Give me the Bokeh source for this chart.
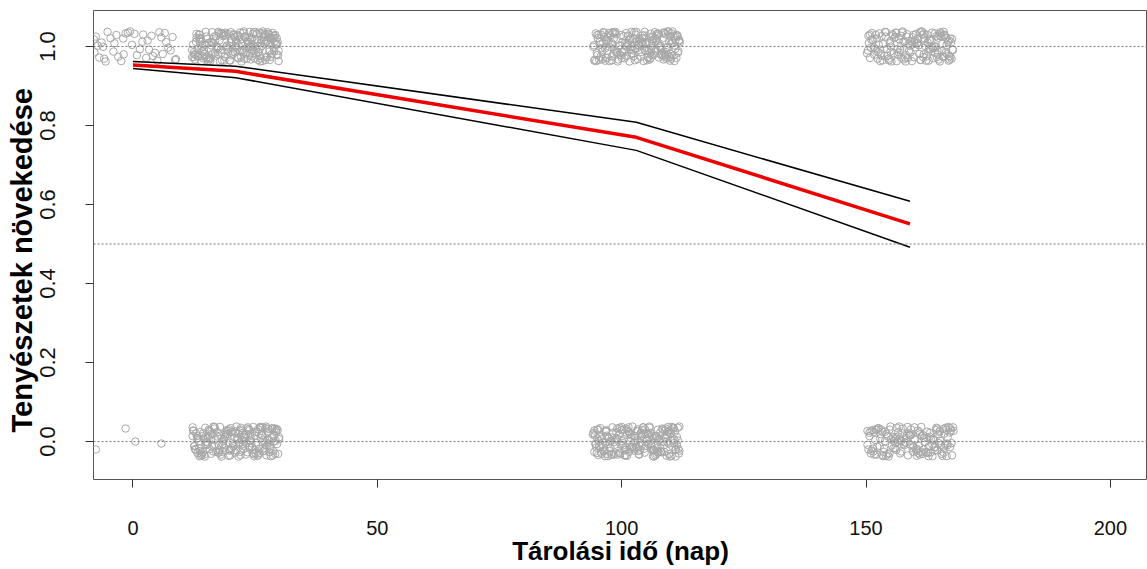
from bokeh.plotting import figure
from bokeh.models import Range1d, FixedTicker, Span, NumeralTickFormatter, Title
from bokeh.embed import file_html
from bokeh.resources import INLINE

# ---- data ----
days = [0, 21, 103, 159]
fit = [0.953, 0.937, 0.770, 0.551]
upper = [0.962, 0.950, 0.808, 0.608]
lower = [0.944, 0.921, 0.737, 0.492]
ref_levels = [0.0, 0.5, 1.0]
x_ticks = [0, 50, 100, 150, 200]
y_ticks = [0.0, 0.2, 0.4, 0.6, 0.8, 1.0]
x_title = "Tárolási idő (nap)"
y_title = "Tenyészetek növekedése"

# jittered observations (x jitter in days, y jitter in thousandths)
d0_hi_dx = [-7.6, -5.9, -3.8, -1.5, 0.8, 3.0, 5.4, 7.7, -6.9, -4.6, -2.4, -0.2, 2.1, 4.5, 6.8, 8.6, -8.0, -5.2, -3.0, 1.4, 3.8, 6.1, -7.2, -1.0, 5.0, 8.1, -4.0, -6.4, 0.3, 2.7, 7.2, -2.0, 4.1, -5.6, 6.5, -7.9, -3.4, 1.9, 8.8, -0.6, 3.3, -6.1, 5.8, -1.9]
d0_hi_dy = [25, -31, 8, 33, -22, 15, 36, -10, -28, 21, -37, 4, 30, -16, 11, -34, 18, 37, -26, -7, 27, -19, 2, 35, -36, 24, -13, 10, 32, -29, -3, 20, -24, -38, 34, -15, 29, 12, -32, 38, -8, -1, 23, -20]
d0_lo_x = [-7.6, -1.5, 0.5, 5.8]
d0_lo_y = [-0.02, 0.033, 0.0, -0.005]

d21_hi_dx = [-8.1, 3.4, -2.7, 6.9, 0.5, -5.6, 8.2, -0.9, 4.7, -7.3, 1.8, -3.9, 7.6, -6.4, 2.9, -1.5, 5.3, -8.6, 0.2, 6.1, -4.4, 3.8, -2.1, 8.7, -6.9, 1.1, -3.2, 5.9, -7.8, 4.2, -0.4, 7.1, -5.1, 2.4, -1.9, 6.6, -8.4, 0.8, 3.1, -4.8, 7.9, -2.5, 5.0, -6.2, 1.5, -0.1, 8.4, -7.0, 4.4, -3.5, 2.0, -5.9, 6.3, -1.2, 3.6, -8.9, 7.3, -4.1, 0.0, 5.6, -2.9, 8.0, -6.6, 1.9, -3.7, 4.9, -7.6, 2.6, -0.6, 6.8, -5.3, 3.3, -1.7, 7.7, -8.2, 0.6, 4.0, -4.6, 5.8, -2.3, 8.5, -6.0, 1.3, -3.0, 6.4, -7.4, 2.2, -0.3, 4.6, -5.0, 7.4, -1.0, 3.0, -8.0, 5.1, -4.2, 0.9, 6.0, -6.8, 2.7, -2.6, 8.8, -5.5, 1.6, -3.4, 4.3, -7.1, 0.4, 7.0, -4.9]
d21_hi_dy = [12, -25, 33, -8, 27, -36, 5, 19, -14, 30, -31, 0, 22, -19, 37, -3, 15, -27, 9, -34, 25, -11, 35, -22, 2, 18, -38, 28, -6, -17, 31, 7, -29, 14, -1, 36, -20, 24, -33, 10, -12, 29, -24, 4, 34, -15, 21, -37, 16, -5, 26, -28, 11, -35, 32, -9, 20, -23, 1, 38, -16, 13, -30, 23, -2, 35, -26, 8, -13, 30, -32, 17, -7, 27, -21, 3, 37, -18, 14, -36, 6, 25, -10, 33, -27, 19, -4, 29, -34, 11, -19, 36, -1, 22, -30, 15, -12, 31, -24, 0, 26, -37, 9, -15, 34, -6, 18, -28, 24, -20]
d21_lo_dx = [4.1, -6.7, 0.7, 8.3, -3.3, 2.5, -8.5, 5.7, -1.4, 7.2, -4.7, 1.0, -7.7, 3.9, -0.8, 6.2, -5.8, 2.1, -2.2, 8.6, -6.1, 4.8, -3.6, 0.3, 7.5, -8.3, 1.7, -1.1, 5.4, -5.2, 3.2, -7.2, 6.7, -0.2, 2.8, -4.3, 8.1, -6.5, 1.4, -2.8, 4.5, -8.7, 7.8, -3.1, 0.1, 5.2, -5.7, 3.5, -1.6, 6.5, -7.5, 2.3, -4.0, 8.9, -0.7, 4.2, -6.3, 1.2, -2.4, 7.0, -8.1, 3.7, -3.8, 5.5, -1.3, 0.9, -5.4, 6.9, -7.9, 2.9, -0.5, 4.6, -6.9, 8.2, -2.0, 1.5, -4.5, 5.9, -8.8, 3.4, -1.8, 7.6, -5.0, 0.5, -3.4, 6.1, -7.0, 2.0, -0.1, 4.9, -6.0, 8.4, -2.7, 1.8, -4.9, 5.0, -7.4, 3.0, -1.0, 6.6]
d21_lo_dy = [-30, 14, -5, 27, -21, 36, -12, 3, 31, -37, 18, -26, 9, 24, -16, 38, -1, -33, 12, 29, -9, 20, -28, 5, 34, -19, 1, -35, 16, 26, -4, -24, 32, 10, -14, 37, -31, 7, 22, -10, -36, 28, 0, 15, -22, 35, -7, -29, 19, 4, -17, 33, -25, 11, 25, -3, -38, 30, 6, -13, 21, -32, 13, 36, -20, -2, 27, -27, 8, 17, -11, 31, -34, 2, 23, -6, 38, -23, 14, -15, 29, -35, 5, 20, -8, 34, -30, 10, 26, -18, -1, 32, -26, 16, -12, 37, -37, 3, 24, -5]
d103_hi_dx = [-7.9, 2.2, 5.8, -3.0, 0.4, 8.0, -5.5, -1.7, 6.4, 3.5, -8.3, 1.3, -4.1, 7.4, -0.6, 4.8, -6.6, 2.7, 8.7, -2.4, -7.2, 5.1, 0.9, -4.9, 6.9, -1.2, 3.9, -8.6, 1.7, -3.6, 7.7, -6.1, 4.3, -0.2, 2.9, -5.2, 8.4, -2.9, 0.0, 6.2, -7.6, 4.0, -1.9, 5.5, -4.4, 1.9, -8.0, 7.1, -3.3, 3.2, -0.9, 6.6, -6.4, 2.4, -5.8, 8.9, -1.4, 4.6, -7.0, 0.6, -2.1, 5.9, -4.7, 3.7, 7.9, -6.9, 1.1, -3.9, 4.4, -8.8, 6.0, -0.4, 2.0, -5.0, 8.2, -2.6, 1.5, -7.4, 5.3, -1.0, 3.0, -6.2, 7.3, -4.2, 0.2, 6.8, -8.2, 2.6, -3.1, 4.9, -5.6, 8.5, -0.7, 1.8, -6.8, 5.6, -2.3, 3.4, -4.6, 7.0]
d103_hi_dy = [21, -10, 35, -29, 4, 16, -37, 27, -3, -21, 33, 9, -16, 38, -25, 1, 24, -33, 13, -8, 30, -19, 6, 36, -27, 18, -12, -36, 28, 2, -23, 15, 32, -6, -30, 11, 25, -15, 37, -2, -34, 20, 7, -24, 34, -11, 29, -31, 3, 14, -18, 38, -5, -28, 23, 10, -38, 31, -13, 17, 0, -22, 35, -7, 26, -32, 12, -17, 33, -1, -26, 19, 8, -35, 29, -14, 22, 5, -20, 37, -9, -29, 15, 31, -4, 27, -37, 12, -23, 2, 34, -16, 20, -11, 36, -33, 9, 25, -19, 6]
d103_lo_dx = [1.6, -6.3, 7.5, -2.2, 4.1, -8.4, 0.3, 5.7, -4.0, 8.8, -1.3, 2.9, -7.1, 6.3, -3.4, 0.8, -5.9, 3.6, 7.9, -0.5, -8.9, 4.4, -2.6, 6.0, -5.3, 1.2, 8.3, -3.8, 2.3, -7.7, 5.0, -1.6, 3.8, -6.0, 7.2, 0.1, -4.5, 8.6, -2.0, 4.7, -8.1, 1.9, -3.2, 6.5, -6.7, 2.6, -0.8, 5.4, -5.1, 7.8, -1.9, 3.3, -7.4, 0.6, 6.8, -4.2, 2.1, -8.6, 4.9, -0.2, -6.4, 7.0, -2.8, 1.4, 5.2, -5.6, 3.1, -7.8, 8.1, -1.0, 0.5, -3.9, 6.6, -6.9, 2.7, -0.4, 4.2, -8.2, 7.6, -2.4, 1.0, -5.4, 5.9, -3.5, 3.9, -7.3, 8.5, -1.2, 0.2, -4.8, 6.2, -6.2, 2.4, -2.9, 4.5, -8.0, 7.3, -0.9, 1.7, -5.0, 5.6, -3.0, 3.5, -7.5, 8.0, -1.5]
d103_lo_dy = [-18, 27, 3, -35, 14, -6, 31, -26, 9, 38, -13, 22, -31, 0, 35, -21, 12, -38, 25, -3, 18, -28, 6, 33, -16, 29, -9, -33, 20, 2, -24, 36, -12, 15, -36, 26, -1, -19, 32, 7, -29, 23, -7, 37, -25, 11, -14, 30, -34, 4, 17, -22, 34, -10, 24, -30, 1, 28, -17, 13, -37, 21, -4, 36, -27, 8, -12, 31, -20, 16, -32, 5, 26, -8, 38, -23, 10, -15, 33, -35, 19, -2, 28, -28, 14, -11, 35, -18, 3, 22, -36, 25, -5, 30, -26, 8, 37, -14, 18, -31, 0, 29, -21, 12, -38, 24]
d159_hi_dx = [-8.2, -6.5, -4.1, -1.3, 1.6, 3.9, 6.2, 8.3, -7.4, -5.0, -2.7, 0.3, 2.8, 5.1, 7.5, -8.6, -3.5, -0.4, 4.4, 6.9, -6.0, -1.9, 2.1, 5.8, 8.7, -7.8, -4.6, 0.9, 3.3, 7.1, -5.5, -2.3, 1.2, 4.8, 8.0, -8.0, -3.0, -0.8, 2.5, 6.5, -6.8, -4.3, 0.0, 3.6, 5.5, 7.8, -7.1, -1.6, 1.9, 4.1, 8.5, -5.8, -2.0, 2.9, 6.7, -8.4, -3.8, 0.6, 5.3, 7.3, -6.3, -1.0, 3.0, 4.6, -4.9, -2.5, 1.4, 6.1, 8.1, -7.6, -0.2, 2.3, 5.0, -5.2, -3.2, 0.5, 3.8, 7.0, -8.8, -1.4, 4.2, 6.4, -6.6, -2.9, 1.8, 5.7, 8.6, -4.0, -0.6, 2.7]
d159_hi_dy = [30, -14, 8, -33, 19, -5, 36, -26, -2, 25, -37, 13, -20, 33, 4, -10, 28, -29, 16, 37, -18, 1, -34, 22, -8, 34, -24, 10, -36, 27, 6, -15, 31, -30, 15, -3, 24, -22, 37, -12, 20, -35, 2, 29, -27, 11, -6, 35, -19, 18, -31, 26, -9, 32, -25, 9, -38, 23, 0, -16, 33, -28, 14, -4, 36, -21, 7, 28, -33, 17, -11, 38, -1, -24, 21, 5, -36, 30, -17, 12, -7, 26, -31, 35, 3, -20, 19, -13, 31, -27]
d159_lo_dx = [0.7, -7.0, 4.3, -3.1, 7.9, -5.7, 2.0, -0.9, 6.0, -8.5, 3.5, -4.4, 8.4, -1.8, 5.2, -6.4, 1.3, -2.5, 7.2, -7.7, 2.6, -0.3, 4.9, -5.3, 8.8, -3.7, 0.2, 6.6, -8.1, 3.1, -1.5, 5.6, -6.1, 1.7, -4.8, 7.6, -2.2, 0.5, 4.0, -7.3, 8.1, -3.3, 2.2, -5.9, 6.3, -0.7, 3.8, -8.7, 1.0, -2.8, 5.4, -6.7, 7.0, -4.2, 2.9, -1.1, 6.8, -7.5, 0.0, 4.6, -5.1, 8.6, -3.5, 1.5, -0.5, 5.9, -8.3, 3.3, -2.0, 7.4, -6.2, 2.4, -4.6, 6.1, -1.3, 0.9, -7.9, 4.7, -3.0, 8.2, -5.5, 1.9, -2.6, 5.0, -6.9, 3.7, -0.1, 7.7, -4.0, 2.8]
d159_lo_dy = [-12, 31, -27, 6, 37, -34, 18, -3, 24, -20, 10, -38, 28, 1, -15, 34, -24, 13, -7, 29, -31, 21, 4, -18, 36, -10, 16, -36, 26, -1, 33, -22, 8, -29, 19, -5, 38, -16, 12, -33, 23, 2, -26, 30, -9, 15, -37, 27, 5, -21, 35, -13, 20, -30, 9, -2, 32, -25, 17, -8, 25, -35, 11, -19, 37, -4, 22, -28, 3, 30, -11, 14, -32, 27, -6, 36, -23, 7, -17, 34, -37, 24, 0, -14, 29, -29, 16, -9, 38, -20]

# further observations in the dense groups, as (x jitter, y jitter) pairs
d21_hi_more = [(2.3,-31),(5.1,8),(-6.8,-12),(-7.4,22),(0.9,35),(7.8,-4),(8.1,29),(-1.1,-36),(-3.6,-20),(4.0,17),
    (6.2,-27),(-5.0,3),(1.4,-9),(-8.3,-33),(-2.0,28),(3.7,36),(8.6,11),(-0.5,-18),(-4.5,9),(6.7,32),
    (-7.0,-3),(2.8,-24),(0.1,14),(-6.1,37),(5.5,-37),(-3.0,-8),(7.3,20),(-8.7,5),(1.9,25),(4.6,-15),
    (-1.8,2),(-5.4,-29),(3.2,-2),(8.4,-21),(-2.4,33),(0.6,-30),(6.0,7),(-7.7,-24),(-4.0,26),(2.5,12),
    (5.8,24),(-0.8,18),(-6.5,-9),(7.0,-34),(-3.3,15),(1.1,-26),(4.3,31),(-8.0,32),(-1.5,-13),(8.8,-11),
    (3.5,3),(-5.8,19),(0.3,-5),(-2.8,-35),(6.5,15),(-7.2,12),(2.0,-17),(5.0,-38),(-4.8,36),(7.6,34),
    (-0.2,24),(-6.0,-30),(3.9,-30),(1.7,38),(-3.9,-1),(8.3,4),(-1.0,10),(4.9,-7),(-8.5,-14),(2.6,5),
    (-5.2,-37),(6.9,-13),(0.4,29),(-2.2,-26),(3.0,23),(-7.5,30),(5.3,1),(-4.2,-16),(7.9,26),(-0.9,-22),
    (1.2,-38),(-6.3,-19),(4.5,10),(-3.5,37),(7.2,-26),(0.0,-1),(-8.9,-27),(5.7,33),(-1.4,31),(3.4,-11)]
d21_lo_more = [(-4.4,-12),(6.6,23),(1.0,-34),(-7.9,14),(3.6,37),(-1.2,-23),(8.5,-6),(-5.5,30),(0.4,8),(4.8,-29),
    (-2.9,-38),(7.4,11),(-8.2,-21),(2.1,19),(-0.6,-3),(5.9,-16),(-6.2,35),(3.0,2),(-3.7,24),(8.0,33),
    (-1.8,13),(1.6,-19),(-7.1,-36),(6.3,-35),(-4.1,6),(0.8,28),(4.2,-9),(-5.9,-7),(2.7,31),(-8.6,27),
    (7.7,-24),(-2.3,-15),(5.4,16),(-0.1,-28),(-6.7,-26),(3.8,-37),(8.7,-31),(-3.2,37),(1.3,4),(-5.0,-31),
    (6.9,3),(-7.6,0),(0.0,21),(4.4,25),(-2.6,-6),(2.4,-27),(-4.9,20),(7.1,-18),(-1.0,34),(5.1,36),
    (-8.4,-10),(3.3,-14),(-6.0,9),(1.8,11),(-3.0,-33),(8.3,23),(-0.4,-12),(6.0,-2),(-5.3,-19),(2.9,29),
    (-7.3,24),(4.7,-33),(-1.6,27),(0.6,-38),(7.9,14),(-4.6,-25),(3.1,8),(-2.0,18),(5.6,-25),(-8.8,36),
    (1.1,35),(-6.4,-33),(6.4,-11),(-3.4,-28),(2.2,-4),(8.9,6),(-0.9,-20),(4.0,15),(-5.7,14),(0.2,38),
    (7.5,31),(-2.5,1),(3.9,-21),(-7.8,-29),(5.2,9),(-1.4,-36),(6.7,26),(-4.3,33),(1.5,-11),(-6.6,21)]
d103_hi_more = [(3.1,-22),(-5.7,14),(7.2,33),(-0.3,-35),(1.9,6),(-8.1,-17),(4.9,-3),(-2.6,26),(6.1,-31),(-4.3,37),
    (0.7,19),(8.6,-12),(-6.9,8),(2.4,-27),(-1.2,-6),(5.6,22),(-3.8,-38),(7.9,2),(-7.7,30),(1.0,-14),
    (-5.0,-25),(3.8,36),(-0.8,-1),(6.7,13),(-2.1,34),(8.2,-29),(-6.0,-11),(4.1,27),(0.3,-32),(-4.6,21),
    (2.0,11),(7.0,-19),(-8.5,-34),(5.3,-8),(-1.7,4),(-3.1,29),(1.5,-37),(6.4,38),(-7.1,-4),(3.5,18),
    (-0.1,30),(-5.9,-29),(8.8,16),(2.8,-16),(-4.0,-13),(0.9,-26),(6.9,-36),(-2.9,10),(4.4,7),(-6.6,35),
    (1.3,28),(-8.7,3),(5.0,-21),(-3.4,-21),(7.6,25),(-1.0,-17),(3.3,1),(-7.3,-26),(0.0,12),(5.9,31),
    (-4.9,5),(2.2,-35),(8.0,-6),(-2.4,-30),(-6.2,17),(4.6,-28),(1.7,37),(-0.6,-10),(7.4,9),(-5.3,28),
    (3.0,24),(-8.0,-22),(6.0,-14),(-1.5,16),(0.5,3),(-3.7,-33),(5.5,35),(-7.5,11),(2.6,-9),(8.4,28),
    (-4.5,-7),(1.2,21),(-2.0,-24),(6.6,-23),(-6.4,-36),(4.0,13),(-0.4,36),(7.8,-37),(-5.5,-1),(2.9,32)]
d103_lo_more = [(-2.5,31),(4.2,-17),(-7.0,6),(0.6,-33),(6.4,24),(-4.4,-8),(8.3,12),(-1.5,-26),(2.7,35),(-5.8,-37),
    (1.0,14),(7.7,-4),(-8.8,22),(3.6,-22),(-0.2,0),(5.3,33),(-3.6,17),(-6.5,-21),(2.0,-11),(8.7,-30),
    (-1.1,9),(4.7,4),(-7.8,-34),(0.2,26),(6.9,-38),(-4.9,36),(3.0,-6),(-2.2,-14),(5.8,11),(-6.1,29),
    (1.7,-28),(-8.3,-6),(7.1,20),(-0.8,38),(3.9,-35),(-5.2,2),(2.5,19),(-3.3,-30),(8.0,-19),(-7.4,13),
    (0.8,-2),(6.0,8),(-1.9,-36),(4.4,30),(-6.8,-15),(-4.1,24),(1.4,36),(7.4,-13),(-2.7,-9),(5.0,-26),
    (-8.0,30),(3.2,15),(-0.5,-18),(6.7,-32),(-5.5,-24),(2.2,7),(-3.9,33),(8.5,3),(-7.2,-28),(0.4,-24),
    (4.9,23),(-1.3,20),(5.7,-9),(-6.3,-3),(1.8,31),(-4.6,-33),(7.6,35),(-2.9,1),(3.4,-37),(-8.5,16),
    (0.0,-13),(6.3,17),(-5.0,10),(2.9,-16),(-1.7,27),(8.8,-23),(-7.6,-11),(4.1,-31),(-3.0,37),(1.2,-7),
    (7.0,29),(-6.0,-31),(-0.4,14),(5.5,0),(-2.4,-22),(3.7,9),(-8.6,-26),(6.6,-5),(-4.3,5),(0.9,22)]
d159_hi_more = [(-7.3,-21),(2.6,30),(5.9,-33),(-1.1,12),(8.2,20),(-4.7,-6),(0.8,-27),(6.6,6),(-2.8,34),(3.7,-13),
    (-8.5,27),(1.1,-2),(-5.6,-35),(7.6,-20),(-0.7,25),(4.0,15),(-3.3,-17),(2.0,36),(-6.4,5),(8.8,-9),
    (0.4,-37),(5.4,26),(-1.8,-29),(-7.9,17),(3.4,-25),(6.3,33),(-4.4,-31),(1.5,9),(-2.2,18),(7.9,-36),
    (-5.1,37),(0.1,-15),(4.7,-4),(-6.9,-12),(2.9,21),(-3.6,31),(8.4,10),(-0.9,-38),(5.1,-16),(-8.2,-29),
    (3.1,1),(-1.5,38),(6.8,-27),(-4.0,14),(0.7,29),(7.4,22),(-5.9,-23),(2.2,-34),(-2.6,-7),(4.5,35),
    (-7.0,29),(1.0,17),(5.6,-10),(-3.9,0),(8.0,-24),(-0.3,6),(3.6,10),(-6.1,-37),(6.1,-38),(-1.9,27)]
d159_lo_more = [(3.3,-26),(-6.0,19),(0.9,5),(7.0,-16),(-2.7,35),(5.3,29),(-8.0,-30),(1.8,-11),(-4.5,13),(8.5,-4),
    (-0.4,-35),(4.1,22),(-7.1,4),(2.3,37),(-3.4,-17),(6.5,-31),(-1.6,21),(-5.4,-26),(0.2,31),(7.7,11),
    (-8.7,-8),(3.0,-1),(-2.0,-30),(5.8,18),(-6.6,33),(1.3,-20),(-3.9,5),(8.9,27),(-0.8,9),(4.6,-37),
    (-7.6,-18),(2.7,16),(-4.9,-36),(6.2,2),(-1.2,-9),(0.6,-26),(7.3,35),(-5.7,25),(3.8,-13),(-2.4,24),
    (5.1,-22),(-8.3,14),(1.6,28),(-3.0,-3),(6.9,-28),(-0.1,17),(4.3,6),(-6.8,-33),(2.0,-33),(-4.2,30),
    (8.2,-14),(-1.8,-25),(5.6,33),(-7.4,24),(0.0,-7),(3.5,25),(-5.1,1),(7.5,-37),(-2.9,11),(1.4,-36)]

clusters = [
    (days[0], 1.0, d0_hi_dx, d0_hi_dy, []),
    (days[1], 1.0, d21_hi_dx, d21_hi_dy, d21_hi_more),
    (days[1], 0.0, d21_lo_dx, d21_lo_dy, d21_lo_more),
    (days[2], 1.0, d103_hi_dx, d103_hi_dy, d103_hi_more),
    (days[2], 0.0, d103_lo_dx, d103_lo_dy, d103_lo_more),
    (days[3], 1.0, d159_hi_dx, d159_hi_dy, d159_hi_more),
    (days[3], 0.0, d159_lo_dx, d159_lo_dy, d159_lo_more),
]
pts_x = list(d0_lo_x)
pts_y = list(d0_lo_y)
for d, lev, jx, jy, more in clusters:
    n = min(len(jx), len(jy))
    pts_x += [d + a for a in jx[:n]]
    pts_y += [lev + b / 1000.0 for b in jy[:n]]
    pts_x += [d + a for a, b in more]
    pts_y += [lev + b / 1000.0 for a, b in more]

# ---- figure ----
p = figure(width=1147, height=569,
           x_range=Range1d(-8.08, 207.6), y_range=Range1d(-0.096, 1.091),
           output_backend="svg", toolbar_location=None,
           min_border_left=93, min_border_right=0, min_border_top=10, min_border_bottom=90)
p.grid.visible = False
p.outline_line_color = "#555555"
p.outline_line_width = 1
p.background_fill_color = "white"
p.border_fill_color = "white"

p.scatter(pts_x, pts_y, marker="circle", size=7.5, fill_color=None,
          line_color="#a8a8a8", line_width=1)

for lv in ref_levels:
    p.add_layout(Span(location=lv, dimension="width", line_color="#777777",
                      line_width=1, line_dash="2 2"))

p.line(days, upper, line_color="black", line_width=1.5)
p.line(days, lower, line_color="black", line_width=1.5)
p.line(days, fit, line_color="#ee0000", line_width=3.5)

# axes
for ax in (p.xaxis[0], p.yaxis[0]):
    ax.axis_line_color = None
    ax.major_tick_line_color = "#333333"
    ax.major_tick_out = 8
    ax.major_tick_in = 0
    ax.minor_tick_line_color = None
    ax.major_label_text_color = "#111111"
    ax.axis_label_text_color = "#000000"
    ax.axis_label_text_font_style = "bold"

p.xaxis.ticker = FixedTicker(ticks=x_ticks)
p.xaxis.major_label_text_font = "Liberation Sans"
p.xaxis.major_label_text_font_size = "20px"
p.xaxis.major_label_standoff = 33
p.xaxis.axis_label = x_title
p.xaxis.axis_label_text_font = "Liberation Sans"
p.xaxis.axis_label_text_font_size = "26px"
p.xaxis.axis_label_standoff = -2

p.yaxis.ticker = FixedTicker(ticks=y_ticks)
p.yaxis.formatter = NumeralTickFormatter(format="0.0")
p.yaxis.major_label_orientation = "vertical"
p.yaxis.major_label_text_font = "Liberation Sans"
p.yaxis.major_label_text_font_size = "22px"
p.yaxis.major_label_standoff = 30

# y title as a left-side title, starting a little above the bottom of the plot box
p.add_layout(Title(text=y_title, align="left", offset=47, standoff=0,
                   text_font="Liberation Sans", text_font_size="29px",
                   text_font_style="bold", text_color="#000000"), "left")

open("out.html", "w").write(file_html(p, INLINE))
